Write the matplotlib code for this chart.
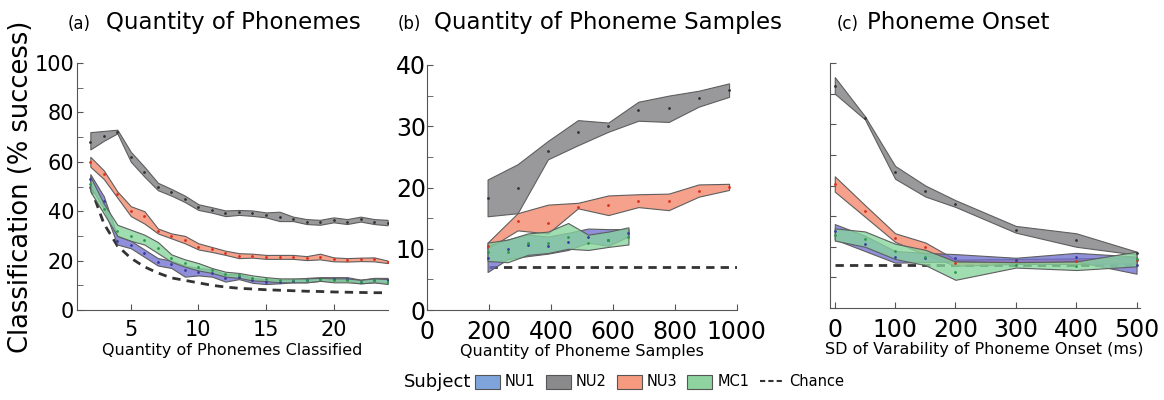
import numpy as np
import matplotlib
matplotlib.use("Agg")
import matplotlib.pyplot as plt
from matplotlib.patches import Patch
from matplotlib.lines import Line2D
from matplotlib.colors import to_rgba

plt.rcParams['font.family'] = ['DejaVu Sans']

# ---------------- data ----------------
# (a) quantity of phonemes classified
qa_x = list(range(2, 25))
qa_nu2_hi = [72, 72.5, 73, 64, 58, 51.5, 49, 46.3, 42.8, 41.6, 40.3, 40.5, 40.3, 39.5, 39.8, 37.8, 36.8, 36.5, 37.5, 36.8, 37.8, 36.8, 36.5]
qa_nu2_lo = [65, 68.5, 71.5, 60, 54, 48.5, 46.3, 43.7, 40.5, 39.4, 38, 38.5, 38.1, 37.5, 36, 36, 34.8, 34.5, 35.5, 34.8, 35.8, 34.8, 34.3]
qa_nu2_mid = [68, 70.5, 72, 62, 56, 50, 47.7, 45, 41.6, 40.5, 39.2, 39.5, 39.2, 38.5, 37.8, 36.9, 35.8, 35.5, 36.5, 35.8, 36.8, 35.8, 35.4]
qa_nu3_hi = [62, 56.5, 48, 42, 40, 33, 31, 30, 27, 25.5, 24, 23, 22.8, 22.3, 22.3, 22.3, 21.8, 22.8, 21.3, 21, 21.2, 21.3, 20]
qa_nu3_lo = [58, 53, 45.5, 38, 35, 31, 29, 27, 24.5, 23.5, 22.3, 21, 21.2, 20.7, 20.7, 20.7, 20.2, 20.5, 19.7, 19.6, 19.8, 19.7, 19]
qa_nu3_mid = [60, 55, 47, 40, 38, 32, 30, 28.5, 25.5, 24.5, 23, 22, 22, 21.5, 21.5, 21.5, 21, 21.5, 20.5, 20.3, 20.5, 20.5, 19.5]
qa_nu1_hi = [55, 46, 30, 28, 24.5, 21, 20, 18, 17, 16.5, 14.5, 14.5, 13, 12.5, 12.3, 12.5, 13, 13.3, 13.3, 13.3, 12.3, 13, 13]
qa_nu1_lo = [50, 41, 26.5, 25, 21.5, 18, 17, 13.5, 14, 13.5, 11.5, 12.5, 11, 10.5, 10.8, 11.2, 11.2, 11.8, 11.8, 11.8, 10.8, 11.2, 11]
qa_nu1_mid = [53, 44, 28, 26.5, 23, 19.5, 18.5, 16, 15.5, 15, 13, 13.5, 12, 11.5, 11.5, 11.8, 12, 12.5, 12.5, 12.5, 11.5, 12, 12]
qa_mc1_hi = [54, 43, 34.5, 32.5, 30.5, 27.5, 22.5, 20.5, 19, 17, 15.5, 15, 14, 13.3, 12.8, 12.8, 12.8, 13, 12.8, 12.8, 12.2, 12.8, 12.5]
qa_mc1_lo = [48, 39, 30, 28, 26.5, 23, 19.5, 17.5, 16, 15, 13.5, 13, 12, 11.7, 11.2, 11.2, 11.2, 11.8, 11.2, 11.2, 10.8, 11.2, 10.5]
qa_mc1_mid = [51, 41, 32, 30, 28.5, 25, 21, 19, 17.5, 16, 14.5, 14, 13, 12.5, 12, 12, 12, 12.5, 12, 12, 11.5, 12, 11.5]
qa_chance = [50, 35, 26, 21, 17.5, 15, 13, 12, 11, 10, 9.3, 8.8, 8.5, 8.2, 8, 7.8, 7.6, 7.5, 7.3, 7.2, 7.1, 7, 7]

# (b) quantity of phoneme samples
qb_x_long = [195, 292, 390, 487, 585, 682, 780, 877, 975]
qb_nu2_hi = [21.3, 23.8, 27.6, 31.0, 30.6, 34.0, 35.0, 35.8, 37.0]
qb_nu2_lo = [15.3, 15.8, 24.6, 26.9, 29.1, 30.9, 30.7, 33.2, 34.8]
qb_nu2_mid = [18.3, 20.0, 26.0, 29.0, 30.0, 32.6, 33.0, 34.6, 36.0]
qb_nu3_hi = [11.0, 15.8, 17.2, 17.5, 18.7, 18.9, 19.0, 20.5, 20.6]
qb_nu3_lo = [10.0, 13.0, 12.5, 16.6, 15.5, 16.8, 16.3, 18.5, 19.6]
qb_nu3_mid = [10.5, 14.5, 14.2, 16.8, 17.1, 17.8, 17.8, 19.5, 20.1]
qb_x_short = [195, 260, 325, 390, 455, 520, 585, 650]
qb_nu1_hi = [10.5, 11.5, 12.3, 12.0, 12.6, 13.3, 13.2, 13.2]
qb_nu1_lo = [6.2, 8.3, 8.8, 9.2, 9.8, 11.0, 10.5, 12.0]
qb_nu1_mid = [8.5, 10.0, 10.6, 10.4, 11.1, 12.0, 11.5, 12.5]
qb_mc1_hi = [11.0, 11.5, 12.5, 12.8, 14.2, 12.3, 12.8, 13.5]
qb_mc1_lo = [8.0, 7.8, 9.0, 9.3, 10.0, 9.8, 10.3, 10.7]
qb_mc1_mid = [9.5, 9.5, 11.0, 11.0, 12.0, 11.0, 11.5, 12.0]
qb_chance_x = [200, 1000]
qb_chance = [7, 7]

# (c) phoneme onset variability
qc_x = [0, 50, 100, 150, 200, 300, 400, 500]
qc_nu2_hi = [37.7, 31.3, 23.2, 20.0, 17.6, 13.4, 12.2, 9.2]
qc_nu2_lo = [35.0, 30.8, 21.1, 18.2, 16.5, 12.3, 10.0, 8.7]
qc_nu2_mid = [36.3, 31.0, 22.2, 19.1, 17.0, 12.8, 11.1, 9.0]
qc_nu3_hi = [21.5, 16.8, 12.2, 10.7, 7.9, 8.0, 8.1, 8.3]
qc_nu3_lo = [19.0, 14.9, 10.8, 8.7, 6.9, 7.2, 7.2, 7.3]
qc_nu3_mid = [20.2, 15.9, 11.5, 9.9, 7.4, 7.6, 7.6, 7.8]
qc_nu1_hi = [13.7, 11.8, 9.3, 9.0, 8.8, 8.2, 9.0, 8.4]
qc_nu1_lo = [11.2, 9.3, 7.4, 7.5, 7.6, 7.4, 7.6, 5.6]
qc_nu1_mid = [12.5, 10.5, 8.3, 8.2, 8.2, 7.8, 8.3, 7.0]
qc_mc1_hi = [13.0, 12.5, 10.5, 9.5, 7.6, 7.5, 7.6, 9.2]
qc_mc1_lo = [11.0, 10.0, 8.0, 7.0, 4.6, 6.6, 6.2, 6.8]
qc_mc1_mid = [12.0, 11.2, 9.3, 8.3, 5.8, 7.0, 6.9, 8.0]
qc_chance_x = [0, 500]
qc_chance = [7, 7]

subjects = ['NU1', 'NU2', 'NU3', 'MC1']
fill_cols = {'NU1': '#7070d0', 'NU2': '#7d7d7f', 'NU3': '#f4876a', 'MC1': '#86d49c'}
dot_cols = {'NU1': '#3a3aa0', 'NU2': '#333333', 'NU3': '#d8301c', 'MC1': '#2a9a4a'}
legend_cols = {'NU1': '#7fa4dc', 'NU2': '#8a8a8c', 'NU3': '#f59a7e', 'MC1': '#8fd3a0'}


def band(ax, x, lo, hi, mid, name):
    ax.fill_between(x, lo, hi, facecolor=to_rgba(fill_cols[name], 0.78),
                    edgecolor='#5e5e5e', linewidth=0.8, zorder=2)
    ax.plot(x, mid, '.', color=dot_cols[name], markersize=2, zorder=3)


def style(ax):
    for s in ['top', 'right']:
        ax.spines[s].set_visible(False)
    for s in ['left', 'bottom']:
        ax.spines[s].set_color('#555555')
    ax.tick_params(which='both', direction='in', color='#555555', length=4)
    ax.tick_params(axis='x', pad=7)
    ax.tick_params(axis='y', pad=2)


fig = plt.figure(figsize=(11.64, 4.0), dpi=100)
ax_a = fig.add_axes([0.066, 0.225, 0.267, 0.6175])
ax_b = fig.add_axes([0.367, 0.225, 0.266, 0.6125])
ax_c = fig.add_axes([0.713, 0.230, 0.266, 0.6125])

# (a)
ax_a.plot(qa_x, qa_chance, '--', color='#333333', linewidth=2, dashes=(3, 2.2), zorder=1)
band(ax_a, qa_x, qa_nu2_lo, qa_nu2_hi, qa_nu2_mid, 'NU2')
band(ax_a, qa_x, qa_nu3_lo, qa_nu3_hi, qa_nu3_mid, 'NU3')
band(ax_a, qa_x, qa_nu1_lo, qa_nu1_hi, qa_nu1_mid, 'NU1')
band(ax_a, qa_x, qa_mc1_lo, qa_mc1_hi, qa_mc1_mid, 'MC1')
ax_a.set_xlim(1, 24)
ax_a.set_ylim(0, 100)
ax_a.set_xticks([5, 10, 15, 20])
ax_a.set_yticks(range(0, 101, 20))
ax_a.set_yticks(range(10, 100, 20), minor=True)
style(ax_a)
ax_a.tick_params(labelsize=15)
ax_a.set_xlabel('Quantity of Phonemes Classified', fontsize=11.5, labelpad=2)
ax_a.set_ylabel('Classification (% success)', fontsize=18.5, labelpad=0)

# (b)
ax_b.plot(qb_chance_x, qb_chance, '--', color='#333333', linewidth=2, dashes=(3, 2.2), zorder=1)
band(ax_b, qb_x_long, qb_nu2_lo, qb_nu2_hi, qb_nu2_mid, 'NU2')
band(ax_b, qb_x_long, qb_nu3_lo, qb_nu3_hi, qb_nu3_mid, 'NU3')
band(ax_b, qb_x_short, qb_nu1_lo, qb_nu1_hi, qb_nu1_mid, 'NU1')
band(ax_b, qb_x_short, qb_mc1_lo, qb_mc1_hi, qb_mc1_mid, 'MC1')
ax_b.set_xlim(0, 1000)
ax_b.set_ylim(0, 40)
ax_b.set_xticks(range(0, 1001, 200))
ax_b.set_yticks(range(0, 41, 10))
ax_b.set_yticks(range(5, 40, 10), minor=True)
style(ax_b)
ax_b.tick_params(labelsize=17)
ax_b.tick_params(axis='y', pad=1)
for lab in ax_b.get_yticklabels():
    lab.set_va('center_baseline')
ax_b.set_xlabel('Quantity of Phoneme Samples', fontsize=11.5, labelpad=0)

# (c)
ax_c.plot(qc_chance_x, qc_chance, '--', color='#333333', linewidth=2, dashes=(3, 2.2), zorder=1)
band(ax_c, qc_x, qc_nu2_lo, qc_nu2_hi, qc_nu2_mid, 'NU2')
band(ax_c, qc_x, qc_nu3_lo, qc_nu3_hi, qc_nu3_mid, 'NU3')
band(ax_c, qc_x, qc_nu1_lo, qc_nu1_hi, qc_nu1_mid, 'NU1')
band(ax_c, qc_x, qc_mc1_lo, qc_mc1_hi, qc_mc1_mid, 'MC1')
ax_c.set_xlim(-8, 505)
ax_c.set_ylim(0, 40)
ax_c.set_xticks(range(0, 501, 100))
ax_c.set_yticks(range(0, 41, 5))
ax_c.set_yticklabels([])
style(ax_c)
ax_c.tick_params(labelsize=17)
ax_c.set_xlabel('SD of Varability of Phoneme Onset (ms)', fontsize=11.5, labelpad=0)

# panel titles
for x0, x1, tag, title in [(0.058, 0.091, '(a)', 'Quantity of Phonemes'),
                           (0.342, 0.373, '(b)', 'Quantity of Phoneme Samples'),
                           (0.719, 0.745, '(c)', 'Phoneme Onset')]:
    fig.text(x0, 0.928, tag, fontsize=12, va='baseline')
    fig.text(x1, 0.928, title, fontsize=16.5, va='baseline')

# legend
handles = [Patch(facecolor=legend_cols[s], edgecolor='#555555', linewidth=0.8) for s in subjects]
handles.append(Line2D([0], [0], color='#333333', linestyle='--', linewidth=1.5, dashes=(2.5, 1.5)))
fig.legend(handles, subjects + ['Chance'], loc='center left', bbox_to_anchor=(0.408, 0.045),
           ncol=5, frameon=False, fontsize=10.5, handlelength=1.7, handleheight=1.1,
           handletextpad=0.35, columnspacing=0.7, borderaxespad=0, borderpad=0)
fig.text(0.347, 0.045, 'Subject', fontsize=13, va='center')

fig.savefig('out.png', dpi=100)
